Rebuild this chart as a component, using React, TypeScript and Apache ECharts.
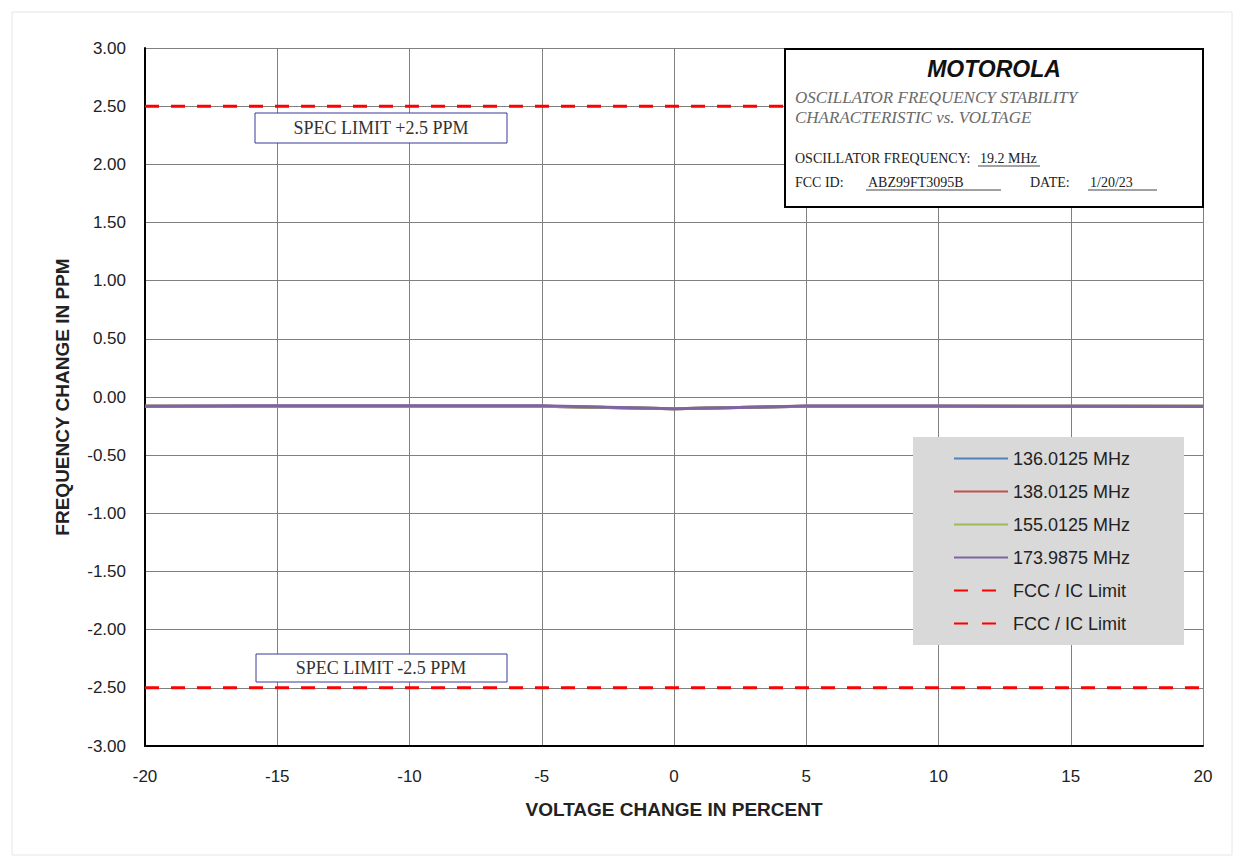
import React, { useEffect, useRef } from "react";
import * as echarts from "echarts";

const voltage = [-20, -15, -10, -5, 0, 5, 10, 15, 20];
const f136 = [-0.08, -0.08, -0.08, -0.08, -0.1, -0.08, -0.08, -0.08, -0.08];
const f138 = [-0.08, -0.08, -0.08, -0.08, -0.1, -0.08, -0.08, -0.08, -0.08];
const f155 = [-0.08, -0.08, -0.08, -0.08, -0.1, -0.08, -0.08, -0.08, -0.08];
const f174 = [-0.08, -0.075, -0.075, -0.075, -0.1, -0.078, -0.078, -0.08, -0.082];
const limitX = [-20, 20];
const upperLimit = [2.5, 2.5];
const lowerLimit = [-2.5, -2.5];
const seriesNames = ["136.0125 MHz", "138.0125 MHz", "155.0125 MHz", "173.9875 MHz", "FCC / IC Limit", "FCC / IC Limit "];
const seriesColors = ["#4F81BD", "#C0504D", "#9BBB59", "#8064A2"];

const pair = (xs: number[], ys: number[]) => xs.map((x, i) => [x, ys[i]]);

export default function App() {
  const ref = useRef<HTMLDivElement>(null);
  useEffect(() => {
    if (!ref.current) return;
    const chart = echarts.init(ref.current, null, { renderer: "svg" });
    const serif = "'Liberation Serif', 'Times New Roman', serif";
    const sans = "'Liberation Sans', Arial, sans-serif";
    const dataSets = [f136, f138, f155, f174];
    const boxText = (text: string, x: number, y: number, opts: any = {}) => ({
      type: "text",
      x,
      y,
      style: {
        text,
        fontFamily: serif,
        fontSize: 17,
        fill: "#222",
        verticalAlign: "middle",
        ...opts,
      },
      z: 21,
    });
    chart.setOption({
      animation: false,
      backgroundColor: "#ffffff",
      grid: { left: 145, right: 41, top: 48, bottom: 121 },
      xAxis: {
        type: "value",
        min: -20,
        max: 20,
        interval: 5,
        name: "VOLTAGE CHANGE IN PERCENT",
        nameLocation: "middle",
        nameGap: 54,
        nameTextStyle: { fontFamily: sans, fontWeight: "bold", fontSize: 19, color: "#222" },
        axisLine: { onZero: false, lineStyle: { color: "#000", width: 2 } },
        axisTick: { show: false },
        axisLabel: { fontFamily: sans, fontSize: 17, color: "#222", margin: 22 },
        splitLine: { show: true, lineStyle: { color: "#808080", width: 1 } },
      },
      yAxis: {
        type: "value",
        min: -3,
        max: 3,
        interval: 0.5,
        name: "FREQUENCY CHANGE IN PPM",
        nameLocation: "middle",
        nameGap: 73,
        nameTextStyle: { fontFamily: sans, fontWeight: "bold", fontSize: 19, color: "#222" },
        axisLine: { onZero: false, lineStyle: { color: "#000", width: 2 } },
        axisTick: { show: false },
        axisLabel: {
          fontFamily: sans,
          fontSize: 17,
          color: "#222",
          margin: 19,
          formatter: (v: number) => v.toFixed(2),
        },
        splitLine: { show: true, lineStyle: { color: "#808080", width: 1 } },
      },
      legend: {
        orient: "vertical",
        left: 913,
        top: 437,
        backgroundColor: "#d9d9d9",
        padding: [12, 53, 12, 40],
        itemWidth: 54,
        itemHeight: 14,
        itemGap: 14,
        itemStyle: { opacity: 0 },
        textStyle: { fontFamily: sans, fontSize: 18, lineHeight: 19, color: "#222" },
        data: seriesNames.map((n, i) =>
          i >= 4 ? { name: n, lineStyle: { type: [14, 14] } } : { name: n }
        ),
      },
      series: [
        ...dataSets.map((d, i) => ({
          name: seriesNames[i],
          type: "line",
          data: pair(voltage, d),
          symbol: "none",
          lineStyle: { color: seriesColors[i], width: 3 },
          itemStyle: { color: seriesColors[i] },
          z: 3 + i,
        })),
        {
          name: seriesNames[4],
          type: "line",
          data: pair(limitX, upperLimit),
          symbol: "none",
          lineStyle: { color: "#FF0000", width: 3, type: [14, 12] },
          itemStyle: { color: "#FF0000" },
          z: 8,
        },
        {
          name: seriesNames[5],
          type: "line",
          data: pair(limitX, lowerLimit),
          symbol: "none",
          lineStyle: { color: "#FF0000", width: 3, type: [14, 12] },
          itemStyle: { color: "#FF0000" },
          z: 8,
        },
      ],
      graphic: [
        {
          type: "rect",
          shape: { x: 12, y: 12, width: 1220, height: 843 },
          style: { fill: "none", stroke: "#e6e6e6", lineWidth: 1 },
          silent: true,
          z: 0,
        },
        {
          type: "rect",
          shape: { x: 785, y: 49, width: 418, height: 158 },
          style: { fill: "#ffffff", stroke: "#000", lineWidth: 2 },
          z: 20,
        },
        {
          type: "text",
          x: 994,
          y: 69,
          style: {
            text: "MOTOROLA",
            fontFamily: sans,
            fontStyle: "italic",
            fontWeight: "bold",
            fontSize: 23,
            fill: "#111",
            align: "center",
            verticalAlign: "middle",
          },
          z: 21,
        },
        boxText("OSCILLATOR FREQUENCY STABILITY", 795, 97, { fontStyle: "italic", fill: "#6a6a6a" }),
        boxText("CHARACTERISTIC vs. VOLTAGE", 795, 117, { fontStyle: "italic", fill: "#6a6a6a" }),
        boxText("OSCILLATOR FREQUENCY:", 795, 158, { fontSize: 14 }),
        boxText("19.2 MHz", 980, 158, { fontSize: 14 }),
        { type: "line", shape: { x1: 978, y1: 166, x2: 1040, y2: 166 }, style: { stroke: "#444", lineWidth: 1 }, z: 21 },
        boxText("FCC ID:", 795, 182, { fontSize: 14 }),
        boxText("ABZ99FT3095B", 868, 182, { fontSize: 14 }),
        { type: "line", shape: { x1: 866, y1: 190, x2: 1001, y2: 190 }, style: { stroke: "#444", lineWidth: 1 }, z: 21 },
        boxText("DATE:", 1030, 182, { fontSize: 14 }),
        boxText("1/20/23", 1090, 182, { fontSize: 14 }),
        { type: "line", shape: { x1: 1088, y1: 190, x2: 1157, y2: 190 }, style: { stroke: "#444", lineWidth: 1 }, z: 21 },
        {
          type: "rect",
          shape: { x: 255, y: 113, width: 252, height: 30 },
          style: { fill: "#ffffff", stroke: "#3b3b9a", lineWidth: 1 },
          z: 20,
        },
        {
          type: "text",
          x: 381,
          y: 128,
          style: {
            text: "SPEC LIMIT +2.5 PPM",
            fontFamily: serif,
            fontSize: 18,
            fill: "#333",
            align: "center",
            verticalAlign: "middle",
          },
          z: 21,
        },
        {
          type: "rect",
          shape: { x: 256, y: 654, width: 251, height: 28 },
          style: { fill: "#ffffff", stroke: "#3b3b9a", lineWidth: 1 },
          z: 20,
        },
        {
          type: "text",
          x: 381,
          y: 668,
          style: {
            text: "SPEC LIMIT -2.5 PPM",
            fontFamily: serif,
            fontSize: 18,
            fill: "#333",
            align: "center",
            verticalAlign: "middle",
          },
          z: 21,
        },
      ],
    });
    return () => chart.dispose();
  }, []);
  return (
    <div
      ref={ref}
      style={{ position: "fixed", left: 0, top: 0, width: 1244, height: 867 }}
    />
  );
}
